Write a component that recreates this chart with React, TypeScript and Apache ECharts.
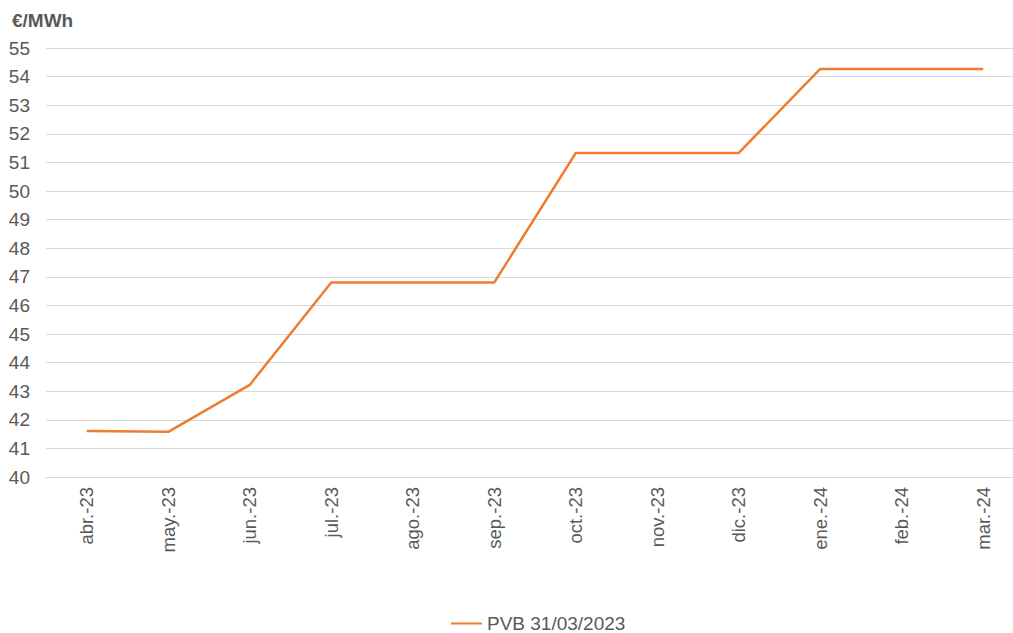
import React, { useEffect, useRef } from "react";
import * as echarts from "echarts";

const categories = ["abr.-23", "may.-23", "jun.-23", "jul.-23", "ago.-23", "sep.-23", "oct.-23", "nov.-23", "dic.-23", "ene.-24", "feb.-24", "mar.-24"];
const seriesName = "PVB 31/03/2023";
const values = [41.61, 41.58, 43.22, 46.8, 46.8, 46.8, 51.33, 51.33, 51.33, 54.27, 54.27, 54.27];
const unitLabel = "€/MWh";

export default function App() {
  const ref = useRef<HTMLDivElement>(null);
  useEffect(() => {
    if (!ref.current) return;
    const chart = echarts.init(ref.current, null, { renderer: "svg" });
    const font = "'Liberation Sans', Arial, sans-serif";
    chart.setOption({
      animation: false,
      backgroundColor: "#ffffff",
      textStyle: { fontFamily: font },
      title: {
        text: unitLabel,
        left: 7,
        top: 6,
        textStyle: { fontFamily: font, fontSize: 19, fontWeight: "bold", color: "#595959" },
      },
      legend: {
        data: [{ name: seriesName, icon: "rect" }],
        left: 446,
        top: 609,
        itemWidth: 31,
        itemHeight: 2,
        textStyle: { fontFamily: font, fontSize: 19, color: "#595959" },
      },
      grid: {
        left: 46,
        width: 978,
        top: 48,
        bottom: 156,
        containLabel: false,
        outerBoundsMode: "none",
      },
      xAxis: {
        type: "category",
        data: categories,
        boundaryGap: true,
        axisLine: { show: true, lineStyle: { color: "#d9d9d9", width: 1 } },
        axisTick: { show: false },
        axisLabel: {
          rotate: 90,
          margin: 10,
          fontSize: 18.5,
          color: "#595959",
          fontFamily: font,
          interval: 0,
        },
      },
      yAxis: {
        type: "value",
        min: 40,
        max: 55,
        interval: 1,
        axisLine: { show: false },
        axisTick: { show: false },
        splitLine: { show: true, lineStyle: { color: "#d9d9d9", width: 1 } },
        axisLabel: { fontSize: 19, color: "#595959", fontFamily: font, margin: 16 },
      },
      series: [
        {
          name: seriesName,
          type: "line",
          data: values,
          showSymbol: false,
          symbol: "none",
          lineStyle: { color: "#ED7D31", width: 2.5 },
          itemStyle: { color: "#ED7D31" },
        },
      ],
    });
    return () => chart.dispose();
  }, []);
  return (
    <div
      ref={ref}
      style={{ position: "absolute", left: 0, top: 0, width: 1013, height: 633 }}
    />
  );
}
